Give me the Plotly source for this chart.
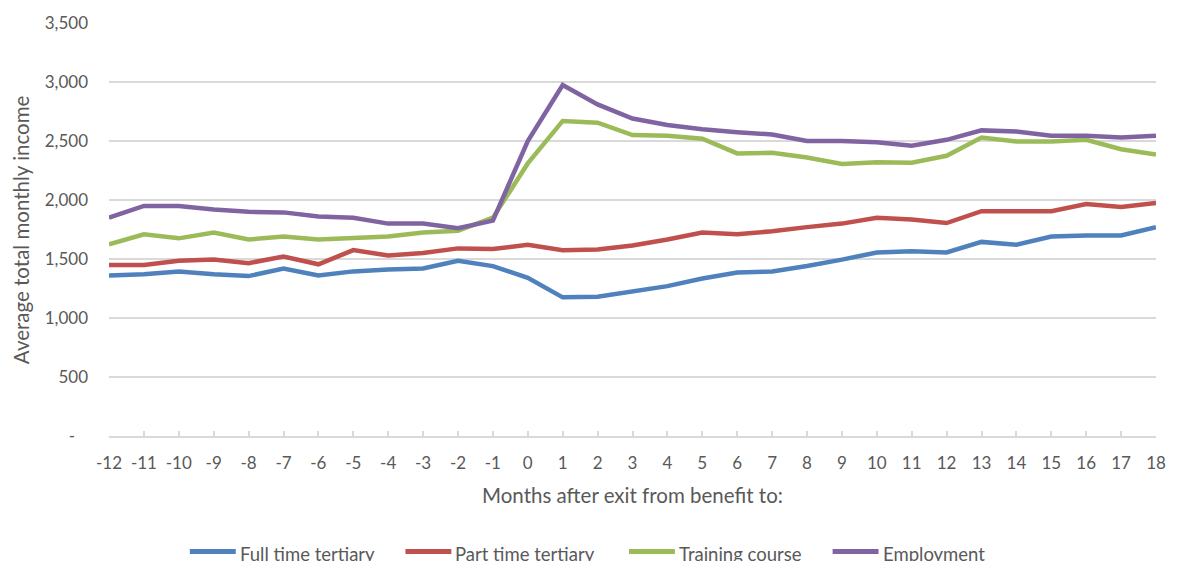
import plotly.graph_objects as go

# Months relative to exit from benefit
months = list(range(-12, 19))

# Average total monthly income by destination after exit
full_time_tertiary = [1360, 1370, 1395, 1370, 1355, 1420, 1360, 1395, 1410, 1420, 1485,
                      1440, 1340, 1175, 1180, 1225, 1270, 1335, 1385, 1395, 1440, 1495,
                      1555, 1565, 1555, 1645, 1620, 1690, 1700, 1700, 1770]
part_time_tertiary = [1450, 1450, 1485, 1495, 1465, 1520, 1455, 1575, 1530, 1550, 1590,
                      1585, 1620, 1575, 1580, 1615, 1665, 1725, 1710, 1735, 1770, 1800,
                      1850, 1835, 1805, 1905, 1905, 1905, 1965, 1940, 1975]
training_course = [1625, 1710, 1675, 1725, 1665, 1690, 1665, 1680, 1690, 1725, 1740,
                   1850, 2310, 2670, 2655, 2550, 2545, 2520, 2395, 2400, 2360, 2305,
                   2320, 2315, 2375, 2530, 2495, 2495, 2510, 2430, 2385]
employment = [1850, 1950, 1950, 1920, 1900, 1895, 1860, 1850, 1800, 1800, 1760,
              1825, 2500, 2975, 2810, 2690, 2635, 2600, 2575, 2555, 2500, 2500,
              2490, 2460, 2510, 2590, 2580, 2545, 2545, 2530, 2545]

series_names = ["Full time tertiary", "Part time tertiary", "Training course", "Employment"]
series_values = [full_time_tertiary, part_time_tertiary, training_course, employment]
series_colors = ["#4F81BD", "#C0504D", "#9BBB59", "#8064A2"]

y_tick_values = [0, 500, 1000, 1500, 2000, 2500, 3000, 3500]
y_tick_labels = ["-\u00a0\u00a0\u00a0", "500", "1,000", "1,500", "2,000", "2,500", "3,000", "3,500"]

FONT = "Lato"
TEXT_COLOR = "#595959"
GRID_COLOR = "#D9D9D9"

W, H = 1178, 561
ML, MR, MT, MB = 109, 20, 23, 125
PW, PH = W - ML - MR, H - MT - MB


def px_x(px):
    return (px - ML) / PW


def px_y(py):
    return (H - MB - py) / PH


fig = go.Figure()
for name, vals, col in zip(series_names, series_values, series_colors):
    fig.add_trace(go.Scatter(
        x=months, y=vals, name=name, mode="lines",
        line=dict(color=col, width=4.5),
        showlegend=False,
    ))

# Legend drawn beneath the x-axis title
legend_line_starts = [190, 406, 630, 834]
for name, col, x0 in zip(series_names, series_colors, legend_line_starts):
    fig.add_shape(type="line", xref="paper", yref="paper",
                  x0=px_x(x0), x1=px_x(x0 + 46), y0=px_y(551.5), y1=px_y(551.5),
                  line=dict(color=col, width=5))
    fig.add_annotation(xref="paper", yref="paper", x=px_x(x0 + 48), y=px_y(554),
                       text=name, showarrow=False, xanchor="left", yanchor="middle",
                       font=dict(family=FONT, size=18.5, color=TEXT_COLOR))

fig.add_annotation(xref="paper", yref="paper", x=px_x(634), y=px_y(495),
                   text="Months after exit from benefit to:", showarrow=False,
                   xanchor="center", yanchor="middle",
                   font=dict(family=FONT, size=20.5, color=TEXT_COLOR))
fig.add_annotation(xref="paper", yref="paper", x=px_x(21), y=px_y(230),
                   text="Average total monthly income", showarrow=False, textangle=-90,
                   xanchor="center", yanchor="middle",
                   font=dict(family=FONT, size=20.5, color=TEXT_COLOR))

fig.update_layout(
    width=W, height=H,
    margin=dict(l=ML, r=MR, t=MT, b=MB),
    paper_bgcolor="white", plot_bgcolor="white",
    font=dict(family=FONT, size=17, color=TEXT_COLOR),
    xaxis=dict(
        range=[-12, 18], tickmode="array", tickvals=months,
        ticktext=[str(m) for m in months],
        showgrid=False, zeroline=False,
        showline=True, linecolor=GRID_COLOR, linewidth=1.5,
        ticks="inside", ticklen=5, tickcolor=GRID_COLOR, tickwidth=1.5,
        ticklabelstandoff=11,
        tickfont=dict(family=FONT, size=17, color=TEXT_COLOR),
    ),
    yaxis=dict(
        range=[0, 3500], tickmode="array", tickvals=y_tick_values, ticktext=y_tick_labels,
        showgrid=True, gridcolor=GRID_COLOR, gridwidth=1.5,
        zeroline=False, showline=False, ticks="",
        ticklabelstandoff=20,
        tickfont=dict(family=FONT, size=17, color=TEXT_COLOR),
    ),
)

fig.write_html("out.html")
